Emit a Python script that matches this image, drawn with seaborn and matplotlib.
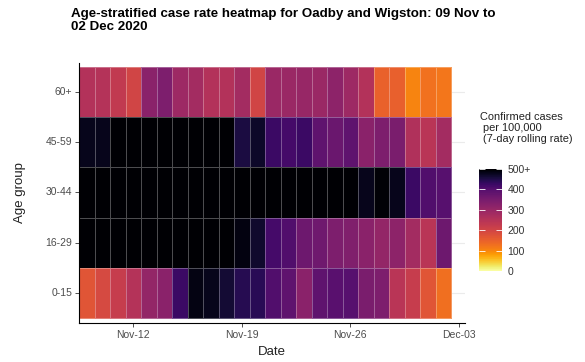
import numpy as np
import pandas as pd
import matplotlib
matplotlib.use('Agg')
import matplotlib.pyplot as plt
import seaborn as sns
from matplotlib.colors import ListedColormap

plt.rcParams['font.family'] = ['Liberation Sans', 'DejaVu Sans']

# data (cases per 100,000, 7-day rolling, capped at 500)
dates = pd.date_range('2020-11-09', '2020-12-02', freq='D')
age_groups = ['60+', '45-59', '30-44', '16-29', '0-15']
rate_60 = [255, 250, 230, 200, 320, 340, 290, 280, 255, 255, 280, 200,
           295, 295, 300, 295, 315, 290, 255, 150, 152, 100, 125, 120]
rate_45 = [480, 480, 500, 500, 500, 500, 500, 500, 500, 500, 455, 470,
           425, 415, 425, 385, 370, 385, 320, 340, 345, 258, 245, 280]
rate_30 = [500, 500, 500, 500, 500, 500, 500, 500, 500, 500, 500, 500,
           500, 500, 500, 500, 500, 500, 480, 495, 480, 425, 405, 400]
rate_16 = [500, 500, 500, 500, 500, 500, 500, 500, 500, 500, 488, 468,
           415, 405, 365, 362, 340, 335, 320, 305, 315, 280, 245, 365]
rate_0 = [170, 190, 220, 250, 305, 320, 425, 485, 480, 462, 445, 440,
          405, 385, 320, 385, 395, 400, 345, 340, 245, 220, 170, 130]
tick_dates = pd.to_datetime(['2020-11-12', '2020-11-19', '2020-11-26', '2020-12-03'])
cbar_ticks = [0, 100, 200, 300, 400, 500]
cbar_labels = ['0', '100', '200', '300', '400', '500+']

df = pd.DataFrame([rate_60, rate_45, rate_30, rate_16, rate_0],
                  index=age_groups, columns=dates)

# reversed inferno, stretched a bit at the low end like the original legend
inf = plt.get_cmap('inferno')
s = np.linspace(0, 1, 256)
t = np.interp(s, [0, 0.2, 0.4, 0.6, 0.8, 1.0], [1.0, 0.73, 0.56, 0.41, 0.25, 0.0])
cmap = ListedColormap(inf(t))

fig = plt.figure(figsize=(5.85, 3.62), dpi=100)
ax = fig.add_axes([79/585, 1-323/362, 386/585, 260/362])
cax = fig.add_axes([479/585, 1-271/362, 23/585, 102/362])

sns.heatmap(df, ax=ax, cbar_ax=cax, cmap=cmap, vmin=0, vmax=500,
            linewidths=0.6, linecolor=(1, 1, 1, 0.3))

ax.set_xlim(0, 24.9)
ax.set_ylim(5.1, -0.08)
ax.set_axisbelow(True)
ax.yaxis.grid(True, color='#ebebeb', lw=0.8)

xpos = (tick_dates - dates[0]).days + 0.5
ax.set_xticks(xpos)
ax.set_xticklabels(tick_dates.strftime('%b-%d'), rotation=0)
ax.set_yticks(np.arange(len(age_groups)) + 0.5)
ax.set_yticklabels(age_groups, rotation=0, va='center')
ax.tick_params(axis='both', length=3, width=0.6, color='#333333',
               labelcolor='#4d4d4d', labelsize=7.5, pad=2)
ax.set_xlabel('')
ax.set_ylabel('')
for side in ['left', 'bottom']:
    ax.spines[side].set_visible(True)
    ax.spines[side].set_color('black')
    ax.spines[side].set_linewidth(0.8)

cbar = ax.collections[0].colorbar
cbar.set_ticks(cbar_ticks)
cbar.set_ticklabels(cbar_labels)
cbar.outline.set_visible(False)
cax.tick_params(left=True, right=True, direction='in', color='white',
                length=4, width=0.6, labelsize=7.5, labelcolor='#333333', pad=4)

fig.text(71/585, 1-8/362,
         'Age-stratified case rate heatmap for Oadby and Wigston: 09 Nov to\n02 Dec 2020',
         fontsize=9.6, fontweight='bold', ha='left', va='top', linespacing=1.08)
fig.text(20/585, 1-193/362, 'Age group', rotation=90, ha='center', va='center',
         fontsize=9.5, color='#222222')
fig.text(272/585, 1-352/362, 'Date', ha='center', va='center',
         fontsize=9.5, color='#222222')
fig.text(480/585, 1-112/362, 'Confirmed cases\n per 100,000\n (7-day rolling rate)',
         ha='left', va='top', fontsize=7.9, color='#222222', linespacing=1.15)

fig.savefig('out.png', dpi=100)
